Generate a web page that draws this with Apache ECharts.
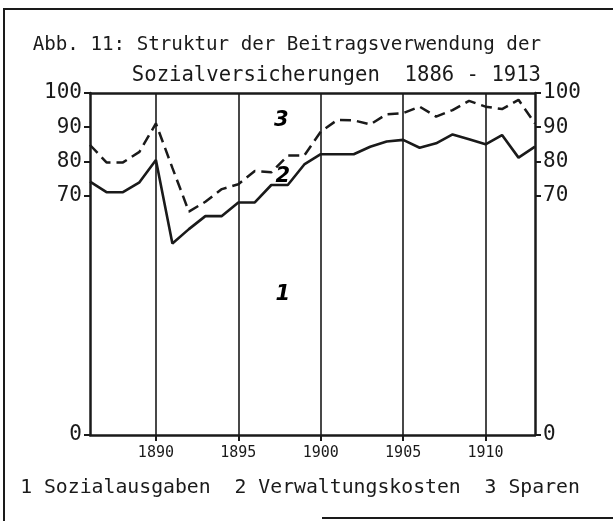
<!DOCTYPE html>
<html>
<head>
<meta charset="utf-8">
<title>Abb. 11</title>
<script src="https://cdn.jsdelivr.net/npm/echarts@6/dist/echarts.min.js"></script>
<style>
html, body { margin: 0; padding: 0; background: #fff; }
#chart { width: 613px; height: 521px; }
</style>
</head>
<body>
<div id="chart"></div>
<script>
// Jahre 1886 - 1913
var years = [1886, 1887, 1888, 1889, 1890, 1891, 1892, 1893, 1894, 1895,
  1896, 1897, 1898, 1899, 1900, 1901, 1902, 1903, 1904, 1905,
  1906, 1907, 1908, 1909, 1910, 1911, 1912, 1913];
// Linie 1: Anteil Sozialausgaben (%)
var sozialausgaben = [74.1, 71.0, 71.0, 73.9, 80.4, 56.0, 60.2, 64.0, 64.0, 68.0,
  68.0, 73.1, 73.1, 79.1, 82.1, 82.1, 82.1, 84.3, 85.8, 86.3,
  84.0, 85.3, 87.9, 86.5, 85.0, 87.7, 81.1, 84.3];
// Linie 2: Sozialausgaben + Verwaltungskosten (%)
var mitVerwaltung = [84.8, 79.7, 79.7, 82.8, 91.1, 78.1, 65.3, 68.2, 71.9, 73.3,
  77.2, 76.8, 81.7, 81.7, 88.7, 92.1, 92.0, 90.8, 93.8, 94.1,
  96.0, 93.1, 95.0, 97.7, 96.0, 95.3, 98.0, 91.1];
var yearTicks = [1890, 1895, 1900, 1905, 1910];
var valueTicks = [0, 70, 80, 90, 100];
var areaNames = ['1', '2', '3'];
var areaPos = [[1897.7, 41], [1897.7, 75.7], [1897.6, 91.8]];

var FONT = "'DejaVu Sans Mono', monospace";
var INK = '#1a1a1a';

var chart = echarts.init(document.getElementById('chart'), null, { renderer: 'canvas' });

var yAxisBase = {
  type: 'value',
  min: 0,
  max: 100,
  axisLine: { show: true, lineStyle: { color: INK, width: 2.5 } },
  axisTick: { show: true, customValues: valueTicks, length: 6, lineStyle: { color: INK, width: 2 } },
  splitLine: { show: false },
  axisLabel: { customValues: valueTicks, color: INK, fontFamily: FONT, fontSize: 21, margin: 8 }
};

var option = {
  backgroundColor: '#fff',
  animation: false,
  grid: { left: 90, right: 78, top: 93, bottom: 86 },
  xAxis: [
    {
      type: 'value',
      min: 1886,
      max: 1913,
      axisLine: { show: true, onZero: false, lineStyle: { color: INK, width: 2.5 } },
      axisTick: { show: true, customValues: yearTicks, length: 6, lineStyle: { color: INK, width: 2 } },
      axisLabel: {
        customValues: yearTicks,
        formatter: function (v) { return String(v); },
        color: INK, fontFamily: FONT, fontSize: 15, margin: 11
      },
      splitLine: { show: true, lineStyle: { color: INK, width: 1.6 } }
    },
    {
      type: 'value',
      position: 'top',
      min: 1886,
      max: 1913,
      axisLine: { show: true, onZero: false, lineStyle: { color: INK, width: 2.5 } },
      axisTick: { show: false },
      axisLabel: { show: false },
      splitLine: { show: false }
    }
  ],
  yAxis: [
    Object.assign({}, yAxisBase, { position: 'left' }),
    Object.assign({}, yAxisBase, { position: 'right' })
  ],
  series: [
    {
      name: 'Sozialausgaben',
      type: 'line',
      data: years.map(function (y, i) { return [y, sozialausgaben[i]]; }),
      showSymbol: false,
      lineStyle: { color: INK, width: 2.6, type: 'solid' }
    },
    {
      name: 'Verwaltungskosten',
      type: 'line',
      data: years.map(function (y, i) { return [y, mitVerwaltung[i]]; }),
      showSymbol: false,
      lineStyle: { color: INK, width: 2.5, type: [11, 6] }
    },
    {
      type: 'scatter',
      symbolSize: 0,
      itemStyle: { opacity: 1 },
      data: areaNames.map(function (n, i) { return { name: n, value: areaPos[i] }; }),
      label: {
        show: true,
        position: 'inside',
        formatter: '{b}',
        color: '#000',
        opacity: 1,
        fontFamily: "'DejaVu Sans', sans-serif",
        fontStyle: 'italic',
        fontWeight: 'bold',
        fontSize: 21
      },
      emphasis: { disabled: true }
    }
  ],
  graphic: [
    { type: 'line', shape: { x1: 3, y1: 9, x2: 613, y2: 9 }, style: { stroke: INK, lineWidth: 2 } },
    { type: 'line', shape: { x1: 4, y1: 9, x2: 4, y2: 521 }, style: { stroke: INK, lineWidth: 2 } },
    { type: 'line', shape: { x1: 322, y1: 518, x2: 613, y2: 518 }, style: { stroke: INK, lineWidth: 2 } },
    { type: 'text', x: 541, y: 45, style: { text: 'Abb. 11: Struktur der Beitragsverwendung der', font: '19.2px ' + FONT, fill: INK, align: 'right', verticalAlign: 'middle' } },
    { type: 'text', x: 541, y: 76, style: { text: 'Sozialversicherungen  1886 - 1913', font: '20.6px ' + FONT, fill: INK, align: 'right', verticalAlign: 'middle' } },
    { type: 'text', x: 300, y: 488, style: { text: '1 Sozialausgaben  2 Verwaltungskosten  3 Sparen', font: '19.8px ' + FONT, fill: INK, align: 'center', verticalAlign: 'middle' } }
  ]
};

chart.setOption(option);
</script>
</body>
</html>
